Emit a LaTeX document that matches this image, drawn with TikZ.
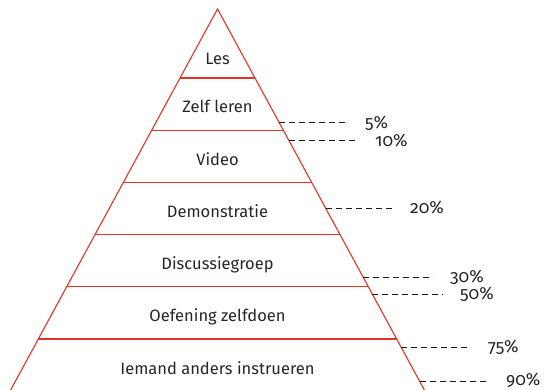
\documentclass[tikz,border=0pt]{standalone}
\usepackage{fontspec}
\setmainfont{Fira Sans}
\newfontfamily\pctfont[Numbers=OldStyle]{Fira Sans}
\usepackage{tikz}

\definecolor{pyred}{RGB}{228,52,40}

\tikzset{
	edge/.style={draw=pyred, line width=1.1pt},
	layer/.style={anchor=base, inner sep=0pt, font=\fontsize{16.5}{19}\selectfont, text=black!85},
	pct/.style={anchor=base west, inner sep=0pt, font=\pctfont\fontsize{17.5}{20}\selectfont, text=black!85},
	lead/.style={draw=black!90, line width=0.8pt, dash pattern=on 6pt off 4pt, shorten >=17pt}
}

\begin{document}
\begin{tikzpicture}[x=1pt, y=-1pt]
	\useasboundingbox (0,0) rectangle (546,390);
	\clip (0,0) rectangle (546,390);
	% pyramid outline
	\coordinate (apex) at (217.5,9);
	\coordinate (bl) at (5.2,400);
	\coordinate (br) at (429.8,400);
	\draw[edge] (bl) -- (apex) -- (br);
	% layer lines
	\coordinate (l1) at (180.0,78);		\coordinate (r1) at (255.0,78);
	\coordinate (l2) at (151.7,130.2);	\coordinate (r2) at (283.3,130.2);
	\coordinate (l3) at (123.3,182.4);	\coordinate (r3) at (311.7,182.4);
	\coordinate (l4) at (95.0,234.6);	\coordinate (r4) at (340.0,234.6);
	\coordinate (l5) at (66.7,286.8);	\coordinate (r5) at (368.3,286.8);
	\coordinate (l6) at (38.3,339);		\coordinate (r6) at (396.7,339);
	\draw[edge] (l1) -- (r1)
		  (l2) -- (r2)
		  (l3) -- (r3)
		  (l4) -- (r4)
		  (l5) -- (r5)
		  (l6) -- (r6);
	% layer texts
	\node (les) at (217.5,65) [layer] {Les};
		\node (zelf) at (217.5,113) [layer] {Zelf leren};
		\node (video) at (217.5,165.2) [layer] {Video};
		\node (demo) at (217.5,217.4) [layer] {Demonstratie};
		\node (disc) at (217.5,269.6) [layer] {Discussiegroep};
		\node (oef) at (217.5,321.8) [layer] {Oefening zelfdoen};
		\node (inst) at (217.5,374) [layer] {Iemand anders instrueren};
	% percentages
	\coordinate (e5) at (279.2,122.7);
	\coordinate (e10) at (289.0,140.7);
	\coordinate (e20) at (325.6,208);
	\coordinate (e30) at (363.0,277);
	\coordinate (e50) at (372.3,294);
	\coordinate (e75) at (401.0,347);
	\coordinate (e90) at (419.5,381);
	\node (p5) at (365,128.2) [pct] {5\%};
	\node (p10) at (375,146.2) [pct] {10\%};
	\node (p20) at (410,213.5) [pct] {20\%};
	\node (p30) at (450,282.5) [pct] {30\%};
	\node (p50) at (460,299.5) [pct] {50\%};
	\node (p75) at (488,352.5) [pct] {75\%};
	\node (p90) at (506,385.5) [pct] {90\%};
	\draw[lead] (e5) -- (e5 -| p5.west);
	\draw[lead] (e10) -- (e10 -| p10.west);
	\draw[lead] (e20) -- (e20 -| p20.west);
	\draw[lead] (e30) -- (e30 -| p30.west);
	\draw[lead] (e50) -- (e50 -| p50.west);
	\draw[lead] (e75) -- (e75 -| p75.west);
	\draw[lead] (e90) -- (e90 -| p90.west);
\end{tikzpicture}
\end{document}
